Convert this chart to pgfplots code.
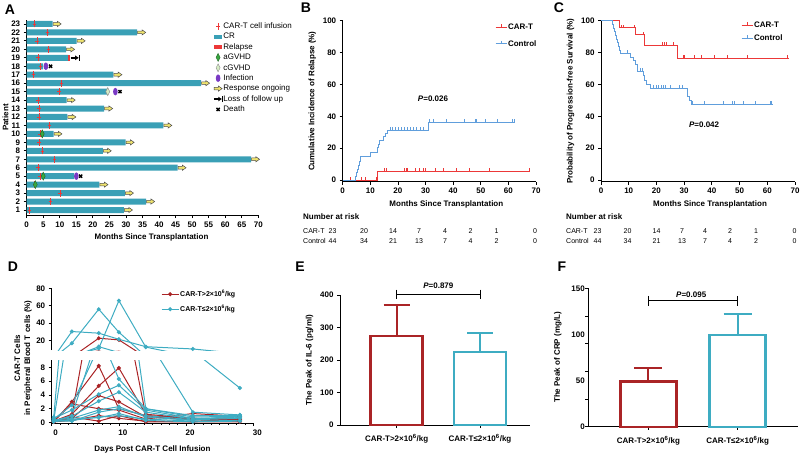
\documentclass[border=0pt]{standalone}
\usepackage{pgfplots}
\usepackage{pgfplotstable}
\pgfplotsset{compat=1.18}
\usepackage{fontspec}
\setmainfont{Liberation Sans}

\definecolor{crteal}{RGB}{58,160,182}
\definecolor{kmred}{RGB}{236,56,56}
\definecolor{kmblue}{RGB}{96,158,220}
\definecolor{dred}{RGB}{170,36,38}
\definecolor{dteal}{RGB}{62,172,194}
\definecolor{infpurple}{RGB}{122,58,196}
\definecolor{agreen}{RGB}{56,168,64}
\definecolor{cpale}{RGB}{214,236,196}
\definecolor{ongyellow}{RGB}{240,228,110}

\pgfdeclareplotmark{infusion}{%
  \pgfpathmoveto{\pgfpoint{0pt}{-3.5pt}}\pgfpathlineto{\pgfpoint{0pt}{3.5pt}}%
  \pgfpathmoveto{\pgfpoint{-1.8pt}{0pt}}\pgfpathlineto{\pgfpoint{1.8pt}{0pt}}%
  \pgfusepathqstroke}
\pgfdeclareplotmark{ongoing}{%
  \pgfpathmoveto{\pgfpoint{0.5pt}{-1.3pt}}%
  \pgfpathlineto{\pgfpoint{4.8pt}{-1.3pt}}%
  \pgfpathlineto{\pgfpoint{4.8pt}{-2.6pt}}%
  \pgfpathlineto{\pgfpoint{8.5pt}{0pt}}%
  \pgfpathlineto{\pgfpoint{4.8pt}{2.6pt}}%
  \pgfpathlineto{\pgfpoint{4.8pt}{1.3pt}}%
  \pgfpathlineto{\pgfpoint{0.5pt}{1.3pt}}%
  \pgfpathclose\pgfusepathqfillstroke}
\pgfdeclareplotmark{lossfu}{%
  \pgfsetlinewidth{1.6pt}%
  \pgfpathmoveto{\pgfpoint{0pt}{0pt}}\pgfpathlineto{\pgfpoint{5pt}{0pt}}\pgfusepathqstroke
  \pgfpathmoveto{\pgfpoint{4.5pt}{-2.3pt}}\pgfpathlineto{\pgfpoint{8pt}{0pt}}\pgfpathlineto{\pgfpoint{4.5pt}{2.3pt}}\pgfpathclose\pgfusepathqfill
  \pgfsetlinewidth{1.2pt}%
  \pgfpathmoveto{\pgfpoint{8.6pt}{-3pt}}\pgfpathlineto{\pgfpoint{8.6pt}{3pt}}\pgfusepathqstroke}
\pgfdeclareplotmark{ellip}{%
  \pgfpathellipse{\pgfpointorigin}{\pgfpoint{2.3pt}{0pt}}{\pgfpoint{0pt}{3.8pt}}\pgfusepathqfill}
\pgfdeclareplotmark{vdiamond}{%
  \pgfpathmoveto{\pgfpoint{0pt}{4pt}}\pgfpathlineto{\pgfpoint{2pt}{0pt}}\pgfpathlineto{\pgfpoint{0pt}{-4pt}}\pgfpathlineto{\pgfpoint{-2pt}{0pt}}\pgfpathclose\pgfusepathqfillstroke}
\pgfdeclareplotmark{cens}{%
  \pgfpathmoveto{\pgfpoint{0pt}{-0.4pt}}\pgfpathlineto{\pgfpoint{0pt}{3pt}}\pgfusepathqstroke}
\pgfdeclareplotmark{crbar}{%
  \pgfpathrectangle{\pgfpoint{-4pt}{-1.9pt}}{\pgfpoint{8pt}{3.8pt}}\pgfusepathqfill}

\pgfplotsset{
  gp/.style={scale only axis, anchor=south west,
    axis x line*=bottom, axis y line*=left, axis line style={line width=0.8pt,-},
    tick align=outside, major tick length=3pt, minor tick length=2pt,
    every tick/.style={black, line width=0.8pt},
    tick label style={font=\bfseries\fontsize{8}{9}\selectfont},
    label style={font=\bfseries\fontsize{8}{9}\selectfont},
    /pgf/number format/assume math mode=true},
  kmleg/.style={legend style={draw=none, fill=none, anchor=north west,
    font=\bfseries\fontsize{8}{9}\selectfont, legend cell align=left,
    nodes={inner sep=1pt, text height=6pt, text depth=1.6pt}},
    legend image code/.code={\draw[##1, line width=0.9pt] (0pt,0pt) -- (11pt,0pt); \draw[##1, line width=0.9pt] (5.5pt,0pt) -- (5.5pt,2.8pt);}},
}

\pgfplotstableread{
day T1 T2 T3 T4 T5 T6 T7 T8 T9 T10 R1 R2 R3 R4 R5 R6 R7
0.3 0.8 0.3 0.5 0.2 0.6 0.2 0.4 0.3 0.2 0.1 0.2 0.1 0.2 0.1 0.2 0.1 0.1
3 30.4 17 2.5 1.0 1.8 0.9 0.6 0.3 0.2 0.5 1.0 3.0 1.2 0.6 2.7 0.3 0.8
7 28.5 56 11 13 4.1 3.1 1.8 0.8 1.5 0.7 22.7 8.2 5.3 3.9 2.0 1.0 0.2
10 21.5 29.6 65.8 6.3 5.4 4.4 2.3 1.0 2.0 1.3 20.8 2.0 7.9 3.0 1.8 0.6 1.0
14 13 2.0 12.5 2.0 1.8 1.5 0.8 0.5 1.0 0.3 1.0 1.0 1.2 0.8 0.5 0.2 0.1
21 10.4 1.0 1.5 0.8 0.6 0.5 0.3 0.2 0.4 0.1 0.5 0.6 0.6 0.4 1.3 0.1 0.1
28 5.0 1.0 1.1 0.9 0.7 0.8 1.1 0.3 0.6 0.2 0.3 0.4 0.5 0.2 0.9 0.1 0.6
}\dtab

\begin{document}
\begin{tikzpicture}
\useasboundingbox (0pt,0pt) rectangle (800pt,-457pt);

% ---------------- Panel A ----------------
\begin{axis}[gp, at={(26.7pt,-215pt)}, width=231.6pt, height=195pt,
  xmin=0, xmax=70, ymin=0.41, ymax=23.47, clip=false,
  xtick={0,5,...,70}, ytick={1,2,...,23},
  xlabel={Months Since Transplantation}, xlabel style={xshift=9pt},
  ylabel={Patient}, ylabel shift=-4pt,
  legend style={at={(0.794,1.004)}, anchor=north west, draw=none, fill=none,
    font=\fontsize{8}{9}\selectfont, legend cell align=left, row sep=0.8pt,
    nodes={inner sep=1pt, text height=6pt, text depth=1.6pt}},
]
\addplot[xbar, bar width=6pt, fill=crteal, draw=none, forget plot] coordinates {
(29.4,1) (36.1,2) (29.7,3) (22.0,4) (14.3,5) (45.6,6) (67.8,7) (23.0,8) (29.9,9) (8.1,10)
(41.3,11) (12.3,12) (23.4,13) (12.1,14) (24.4,15) (52.7,16) (26.2,17) (5.0,18) (12.6,19)
(11.9,20) (15.1,21) (33.4,22) (7.85,23)};
\addplot[kmred, line width=6pt, forget plot] coordinates {(12.5,19) (13.2,19)};
\addplot[only marks, mark=ongoing, mark options={fill=ongyellow, draw=black!70, line width=0.5pt}, forget plot] coordinates {
(29.4,1) (36.1,2) (29.7,3) (22.0,4) (45.6,6) (67.8,7) (23.0,8) (29.9,9) (8.1,10)
(41.3,11) (12.3,12) (23.4,13) (12.1,14) (52.7,16) (26.2,17) (11.9,20) (15.1,21) (33.4,22) (7.85,23)};
\addplot[only marks, kmred, mark=infusion, mark options={line width=0.6pt}, forget plot] coordinates {
(0.8,1) (7.2,2) (10.1,3) (2.4,4) (4.0,5) (3.4,6) (8.4,7) (4.8,8) (3.8,9) (4.0,10) (6.9,11)
(3.8,12) (3.8,13) (3.5,14) (9.8,15) (10.5,16) (2.0,17) (4.2,18) (3.5,19) (6.6,20) (3.2,21)
(6.3,22) (2.3,23)};
\addplot[only marks, mark=vdiamond, mark options={fill=agreen, draw=agreen!60!black, line width=0.4pt}, forget plot] coordinates {(2.6,4) (5.0,5) (4.7,10)};
\addplot[only marks, mark=vdiamond, mark options={fill=cpale, draw=black!45, line width=0.4pt}, forget plot] coordinates {(24.5,15)};
\addplot[only marks, mark=ellip, mark options={fill=infpurple, draw=none}, forget plot] coordinates {(15.0,5) (26.8,15) (5.8,18)};
\addplot[only marks, black, mark=x, mark size=2.2pt, mark options={line width=1.4pt}, forget plot] coordinates {(16.3,5) (28.2,15) (7.2,18)};
\addplot[only marks, mark=lossfu, mark options={fill=black, draw=black}, forget plot] coordinates {(13.3,19)};
\addlegendimage{only marks, mark=infusion, kmred, mark options={line width=0.6pt}}
\addlegendentry{CAR-T cell infusion}
\addlegendimage{only marks, mark=crbar, mark options={fill=crteal, draw=none}}
\addlegendentry{CR}
\addlegendimage{only marks, mark=crbar, mark options={fill=kmred, draw=none}}
\addlegendentry{Relapse}
\addlegendimage{only marks, mark=vdiamond, mark options={fill=agreen, draw=agreen!60!black, line width=0.4pt}}
\addlegendentry{aGVHD}
\addlegendimage{only marks, mark=vdiamond, mark options={fill=cpale, draw=black!45, line width=0.4pt}}
\addlegendentry{cGVHD}
\addlegendimage{only marks, mark=ellip, mark options={fill=infpurple, draw=none}}
\addlegendentry{Infection}
\addlegendimage{only marks, mark=ongoing, mark options={fill=ongyellow, draw=black!70, line width=0.5pt, xshift=-4.5pt}}
\addlegendentry{Response ongoing}
\addlegendimage{only marks, mark=lossfu, mark options={fill=black, draw=black, xshift=-4.3pt}}
\addlegendentry{Loss of follow up}
\addlegendimage{only marks, black, mark=x, mark size=2.2pt, mark options={line width=1.4pt}}
\addlegendentry{Death}
\end{axis}

% ---------------- Panel B ----------------
\begin{axis}[gp, kmleg, at={(342.7pt,-181.6pt)}, width=193.3pt, height=160.9pt,
  xmin=0, xmax=70, ymin=-1, ymax=100,
  xtick={0,10,...,70}, ytick={0,20,...,100},
  xlabel={Months Since Transplantation}, xlabel style={xshift=7pt},
  ylabel={Cumulative Incidence of Relapse (\%)},
  legend style={at={(0.772,1.003)}, row sep=7.1pt},
]
\addplot[kmred, line width=0.9pt, const plot] coordinates {(0,0) (12.5,5.6) (68,5.6)};
\addlegendentry{CAR-T}
\addplot[kmblue, line width=0.9pt, const plot] coordinates {(0,0) (4.5,2.3) (5.1,4.6) (5.4,6.9) (5.8,9.2) (6.1,11.5) (6.4,14.5) (10.1,17.5) (12.6,20.3) (12.9,22.6) (13.3,24.9) (14.8,27.2) (15.6,29.5) (16.3,31.2) (31.0,33.8) (31.2,36.3) (62,36.3)};
\addlegendentry{Control}
\addplot[kmred, only marks, mark=cens, mark options={line width=0.8pt}, forget plot] coordinates {(2.7,0) (6.9,0) (8.1,0) (12.3,0)
(15.1,5.6) (15.7,5.6) (22.2,5.6) (22.9,5.6) (23.4,5.6) (26.2,5.6) (27.8,5.6) (29.4,5.6) (29.8,5.6) (33.7,5.6) (36.4,5.6) (41.3,5.6) (45.9,5.6) (53,5.6) (67.6,5.6)};
\addplot[kmblue, only marks, mark=cens, mark options={line width=0.8pt}, forget plot] coordinates {(9.9,14.5)
(17.1,31.2) (18.1,31.2) (19.2,31.2) (20.2,31.2) (21.1,31.2) (22.2,31.2) (23.4,31.2) (24.4,31.2) (25.6,31.2) (26.8,31.2) (28,31.2) (29.2,31.2)
(31.4,36.3) (32.8,36.3) (37.4,36.3) (44,36.3) (47.9,36.3) (48.5,36.3) (51.7,36.3) (56.1,36.3) (61.4,36.3) (62,36.3)};
\node[font=\bfseries\fontsize{8}{9}\selectfont] at (axis cs:32.7,50.8) {\textit{P}=0.026};
\end{axis}

% ---------------- Panel C ----------------
\begin{axis}[gp, kmleg, at={(601pt,-181.6pt)}, width=194pt, height=160.9pt,
  xmin=0, xmax=70, ymin=-1, ymax=100,
  xtick={0,10,...,70}, ytick={0,20,...,100},
  xlabel={Months Since Transplantation}, xlabel style={xshift=12pt},
  ylabel={Probability of Progression-free Survival (\%)},
  legend style={at={(0.706,1.017)}, row sep=3.7pt},
]
\addplot[kmred, line width=0.9pt, const plot] coordinates {(0,100) (6.5,95.7) (12.6,91.1) (15.5,84.6) (27.5,76.3) (68,76.3)};
\addlegendentry{CAR-T}
\addplot[kmblue, line width=0.9pt, const plot] coordinates {(0,100) (4.2,97.7) (4.6,95.4) (5.0,93.1) (5.3,90.8) (5.6,88.5) (5.9,86.2) (6.2,83.9) (6.6,81.6) (6.9,79.5) (10.6,77.2) (11.7,75) (12.6,72.5) (13.1,68.2) (15.2,65.5) (15.8,62.7) (16.4,60) (17.7,57.5) (31.1,52.7) (31.9,50.1) (32.6,47.7) (62,47.7)};
\addlegendentry{Control}
\addplot[kmred, only marks, mark=cens, mark options={line width=0.8pt}, forget plot] coordinates {(7.2,95.7) (8.1,95.7) (12.0,95.7) (15.3,91.1)
(22.1,84.6) (22.9,84.6) (23.5,84.6) (26.1,84.6)
(29.7,76.3) (30.1,76.3) (33.6,76.3) (36.3,76.3) (40.8,76.3) (45.6,76.3) (52.8,76.3) (67.4,76.3)};
\addplot[kmblue, only marks, mark=cens, mark options={line width=0.8pt}, forget plot] coordinates {(9.5,79.5) (14.3,68.2) (14.9,68.2)
(18.9,57.5) (19.9,57.5) (20.7,57.5) (21.7,57.5) (22.5,57.5) (23.3,57.5) (24.9,57.5) (28.2,57.5) (29.5,57.5)
(33,47.7) (37.2,47.7) (44.2,47.7) (47.3,47.7) (48.1,47.7) (51.4,47.7) (55.8,47.7) (61,47.7) (61.6,47.7)};
\node[font=\bfseries\fontsize{8}{9}\selectfont] at (axis cs:37.2,34.4) {\textit{P}=0.042};
\end{axis}

% number at risk tables
\begin{scope}[every node/.style={font=\fontsize{7}{8}\selectfont, inner sep=0pt}]
\node[anchor=west, font=\bfseries\fontsize{8}{9}\selectfont] at (303pt,-217pt) {Number at risk};
\node[anchor=west] at (303pt,-231pt) {CAR-T};
\node[anchor=west] at (303pt,-241pt) {Control};
\foreach \x/\a/\b in {332.5/23/44,364/20/34,393/14/21,419/7/13,445/4/7,470.5/2/4,496.5/1/2,535/0/0}{
  \node at (\x pt,-231pt) {\a};
  \node at (\x pt,-241pt) {\b};
}
\node[anchor=west, font=\bfseries\fontsize{8}{9}\selectfont] at (566pt,-217pt) {Number at risk};
\node[anchor=west] at (566pt,-231pt) {CAR-T};
\node[anchor=west] at (566pt,-241pt) {Control};
\foreach \x/\a/\b in {597.5/23/44,627.5/20/34,656.5/14/21,682/7/13,705/4/7,730/2/4,756/1/2,794.5/0/0}{
  \node at (\x pt,-231pt) {\a};
  \node at (\x pt,-241pt) {\b};
}
\end{scope}

% ---------------- Panel D ----------------
\begin{axis}[gp, at={(51.7pt,-423.2pt)}, width=201.6pt, height=62.8pt,
  xmin=0, xmax=30, ymin=-0.1, ymax=9,
  xtick={0,10,20,30}, minor x tick num=7, ytick={0,2,4,6,8},
  xticklabel style={xshift=4pt},
  xlabel={Days Post CAR-T Cell Infusion}, xlabel style={yshift=-3pt},
]
\pgfplotsinvokeforeach{R1,R2,R3,R4,R5,R6,R7}{
  \addplot[dred, line width=1pt, mark=*, mark size=1.5pt, forget plot] table[x=day,y=#1]{\dtab};}
\pgfplotsinvokeforeach{T1,T2,T3,T4,T5,T6,T7,T8,T9,T10}{
  \addplot[dteal, line width=1pt, mark=*, mark size=1.5pt, forget plot] table[x=day,y=#1]{\dtab};}
\end{axis}
\begin{axis}[gp, at={(51.7pt,-350pt)}, width=201.6pt, height=61.7pt,
  xmin=0, xmax=30, ymin=9.2, ymax=80, axis x line=none,
  ytick={20,40,60,80},
  legend style={at={(0.527,1.018)}, anchor=north west, draw=none, fill=none,
    font=\bfseries\fontsize{7}{8}\selectfont, legend cell align=left, row sep=5.4pt,
    nodes={inner sep=1pt, text height=6pt, text depth=1.6pt}},
]
\pgfplotsinvokeforeach{R1,R2,R3,R4,R5,R6,R7}{
  \addplot[dred, line width=1pt, mark=*, mark size=1.5pt, forget plot] table[x=day,y=#1]{\dtab};}
\pgfplotsinvokeforeach{T1,T2,T3,T4,T5,T6,T7,T8,T9,T10}{
  \addplot[dteal, line width=1pt, mark=*, mark size=1.5pt, forget plot] table[x=day,y=#1]{\dtab};}
\addlegendimage{dred, line width=1pt, mark=*, mark size=1.5pt}
\addlegendentry{CAR-T>2×10\textsuperscript{6}/kg}
\addlegendimage{dteal, line width=1pt, mark=*, mark size=1.5pt}
\addlegendentry{CAR-T≤2×10\textsuperscript{6}/kg}
\end{axis}
\node[rotate=90, align=center, font=\bfseries\fontsize{8}{10}\selectfont] at (23pt,-358pt) {CAR-T Cells\\in Peripheral Blood T cells (\%)};

% ---------------- Panel E ----------------
\begin{axis}[gp, at={(340pt,-425pt)}, width=190pt, height=130pt,
  xmin=-0.68, xmax=1.6, ymin=0, ymax=400, clip=false,
  xtick={0,1}, xticklabels={CAR-T>2×10\textsuperscript{6}/kg, CAR-T≤2×10\textsuperscript{6}/kg},
  xticklabel style={yshift=-3pt},
  ytick={0,100,...,400},
  ylabel={The Peak of IL-6 (pg/ml)},
]
\addplot[ybar, bar shift=0pt, bar width=52pt, fill=white, draw=dred, line width=2.4pt,
  error bars/.cd, y dir=plus, y explicit, error bar style={line width=2pt, dred},
  error mark options={rotate=90, mark size=13pt, line width=2pt, dred}] coordinates {(0,274) +- (0,95)};
\addplot[ybar, bar shift=0pt, bar width=52pt, fill=white, draw=dteal, line width=2.4pt,
  error bars/.cd, y dir=plus, y explicit, error bar style={line width=2pt, dteal},
  error mark options={rotate=90, mark size=13pt, line width=2pt, dteal}] coordinates {(1,224) +- (0,60)};
\addplot[black, line width=0.9pt, mark=|, mark size=4.5pt, mark options={line width=0.9pt}] coordinates {(0,403) (1,403)};
\node[font=\bfseries\fontsize{8}{9}\selectfont] at (axis cs:0.5,428) {\textit{P}=0.879};
\end{axis}

% ---------------- Panel F ----------------
\begin{axis}[gp, at={(588.3pt,-426.7pt)}, width=209.7pt, height=138.4pt,
  xmin=-0.674, xmax=1.677, ymin=0, ymax=150, clip=false,
  xtick={0,1}, xticklabels={CAR-T>2×10\textsuperscript{6}/kg, CAR-T≤2×10\textsuperscript{6}/kg},
  xticklabel style={yshift=-3pt},
  ytick={0,30,...,150}, yticklabels={,,,,,},
  extra y ticks={0,50,100,150}, extra y tick labels={0,50,100,150},
  extra y tick style={major tick length=0pt},
  ylabel={The Peak of CRP (mg/L)},
]
\addplot[ybar, bar shift=0pt, bar width=56pt, fill=white, draw=dred, line width=2.4pt,
  error bars/.cd, y dir=plus, y explicit, error bar style={line width=2pt, dred},
  error mark options={rotate=90, mark size=14pt, line width=2pt, dred}] coordinates {(0,49) +- (0,15)};
\addplot[ybar, bar shift=0pt, bar width=56pt, fill=white, draw=dteal, line width=2.4pt,
  error bars/.cd, y dir=plus, y explicit, error bar style={line width=2pt, dteal},
  error mark options={rotate=90, mark size=14pt, line width=2pt, dteal}] coordinates {(1,99.5) +- (0,22.5)};
\addplot[black, line width=0.9pt, mark=|, mark size=5pt, mark options={line width=0.9pt}] coordinates {(0,136.5) (1,136.5)};
\node[font=\bfseries\fontsize{8}{9}\selectfont] at (axis cs:0.48,143) {\textit{P}=0.095};
\end{axis}

% panel letters
\begin{scope}[every node/.style={font=\bfseries\fontsize{14}{16}\selectfont, inner sep=0pt}]
\node at (10pt,-10pt) {A};
\node at (306pt,-8pt) {B};
\node at (559pt,-8pt) {C};
\node at (13pt,-267pt) {D};
\node at (300pt,-267pt) {E};
\node at (562pt,-267pt) {F};
\end{scope}
\end{tikzpicture}
\end{document}
